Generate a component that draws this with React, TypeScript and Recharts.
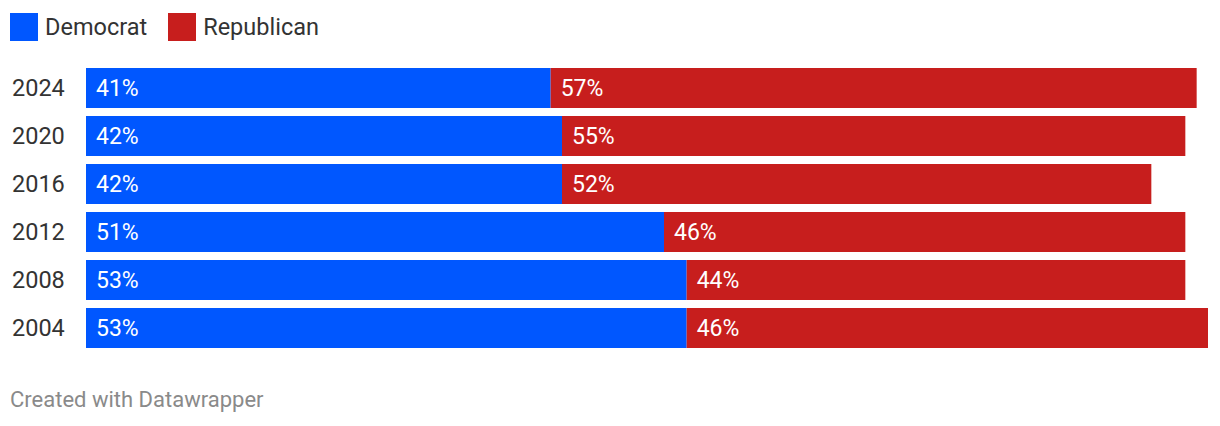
import { BarChart, Bar, XAxis, YAxis, LabelList } from 'recharts'

const YEARS = ['2024', '2020', '2016', '2012', '2008', '2004']
const DEMOCRAT = [41, 42, 42, 51, 53, 53]
const REPUBLICAN = [57, 55, 52, 46, 44, 46]

const SERIES = [
  { key: 'democrat', label: 'Democrat', color: '#0057ff' },
  { key: 'republican', label: 'Republican', color: '#c71e1d' },
]

const data = YEARS.map((year, i) => ({
  year,
  democrat: DEMOCRAT[i],
  republican: REPUBLICAN[i],
}))

const FONT = 'Roboto, sans-serif'

function YearTick({ y, payload }: any) {
  return (
    <text x={12} y={y} dy="0.36em" fill="#333" fontSize={23.5} fontFamily={FONT} textAnchor="start">
      {payload.value}
    </text>
  )
}

function ValueLabel({ x, y, height, value }: any) {
  return (
    <text x={x + 10} y={y + height / 2} dy="0.36em" fill="#fff" fontSize={23} fontFamily={FONT}>
      {value}%
    </text>
  )
}

export default function App() {
  return (
    <div style={{ position: 'fixed', top: 0, left: 0, width: 1220, height: 426, background: '#fff', fontFamily: FONT }}>
      <div style={{ position: 'absolute', top: 13, left: 10, display: 'flex', alignItems: 'center' }}>
        {SERIES.map(s => (
          <div key={s.key} style={{ display: 'flex', alignItems: 'center', marginRight: 21 }}>
            <span style={{ width: 28, height: 28, background: s.color, display: 'inline-block', marginRight: 7 }} />
            <span style={{ fontSize: 23.5, color: '#333', lineHeight: '28px' }}>{s.label}</span>
          </div>
        ))}
      </div>
      <div style={{ position: 'absolute', top: 0, left: 0 }}>
        <BarChart
          width={1220}
          height={360}
          data={data}
          layout="vertical"
          margin={{ top: 64, right: 12, left: 0, bottom: 8 }}
          barCategoryGap={4}
        >
          <XAxis type="number" domain={[0, 99]} hide />
          <YAxis
            type="category"
            dataKey="year"
            width={86}
            axisLine={false}
            tickLine={false}
            tick={<YearTick />}
          />
          {SERIES.map(s => (
            <Bar key={s.key} dataKey={s.key} stackId="a" fill={s.color} isAnimationActive={false}>
              <LabelList dataKey={s.key} content={<ValueLabel />} />
            </Bar>
          ))}
        </BarChart>
      </div>
      <div style={{ position: 'absolute', top: 387, left: 10, fontSize: 22, color: '#8a8a8a' }}>
        Created with Datawrapper
      </div>
    </div>
  )
}
